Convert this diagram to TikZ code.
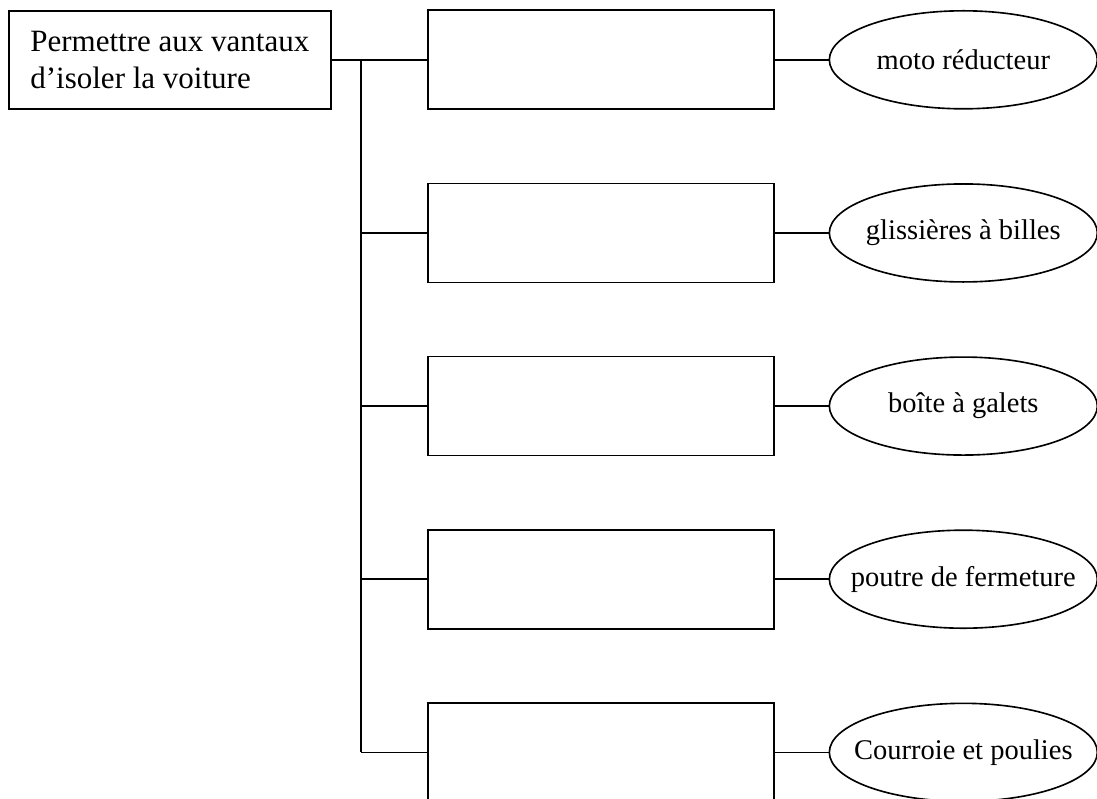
\documentclass[tikz,border=0pt]{standalone}
\usepackage{fontspec}
\setmainfont{Liberation Serif}
\usetikzlibrary{positioning,shapes.geometric}
\tikzset{
  func/.style={draw,line width=0.65pt,align=left,inner sep=0pt,
               minimum width=128.8pt,minimum height=39.2pt,
               font=\fontsize{12.4}{14.8}\selectfont},
  blank/.style={draw,line width=0.65pt,minimum width=138.4pt,minimum height=39.6pt},
  part/.style={ellipse,draw,line width=0.65pt,inner xsep=-22pt,inner ysep=0pt,
               minimum width=107.2pt,minimum height=39.2pt,
               font=\fontsize{11.4}{13.6}\selectfont},
  link/.style={line width=0.65pt}
}
\begin{document}
\begin{tikzpicture}[x=0.4pt,y=0.4pt,node distance=29pt]
    \useasboundingbox (0,0) rectangle (1097,-798);
    \clip (0,0) rectangle (1097,-798);

    \node[func,anchor=north west] (fn) at (8,-10) {Permettre aux vantaux\\d'isoler la voiture};

    \node[blank,right=38.1pt of fn] (r1) {};
    \node[blank,below=of r1] (r2) {};
    \node[blank,below=of r2] (r3) {};
    \node[blank,below=of r3] (r4) {};
    \node[blank,below=of r4] (r5) {};

    \node[part,right=21.6pt of r1] (e1) {moto réducteur};
    \node[part,right=21.6pt of r2] (e2) {glissières à billes};
    \node[part,right=21.6pt of r3] (e3) {boîte à galets};
    \node[part,right=21.6pt of r4] (e4) {poutre de fermeture};
    \node[part,right=21.6pt of r5] (e5) {Courroie et poulies};

    % bus on the left of the boxes
    \coordinate (bus) at (361,-56);
    \draw[link] (fn) -- (r1);
    \draw[link] (bus |- r1.west) -- (bus |- r5.west);
    \foreach \i in {2,...,5}
      \draw[link] (bus |- r\i.west) -- (r\i.west);

    \foreach \i in {1,...,5}
      \draw[link] (r\i) -- (e\i);
  \end{tikzpicture}
\end{document}
